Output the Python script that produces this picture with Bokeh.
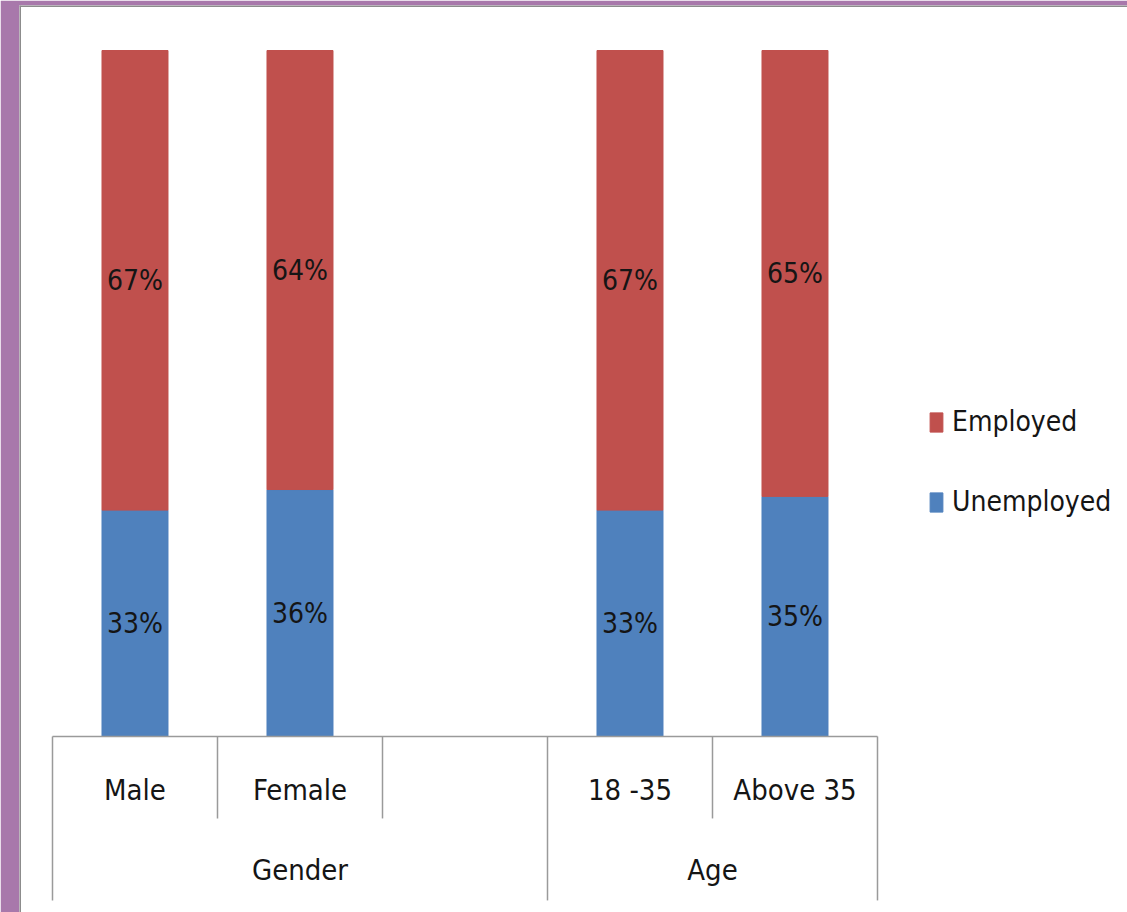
from bokeh.plotting import figure
from bokeh.models import ColumnDataSource, Range1d, Legend, LegendItem, Span
from bokeh.core.properties import value
from bokeh.embed import file_html
from bokeh.resources import INLINE

# ---- data ----
slots = ["Male", "Female", "", "18 -35", "Above 35"]
groups = ["Gender", "Age"]
group_sizes = [3, 2]
unemployed = [33, 36, None, 33, 35]
employed = [67, 64, None, 67, 65]
series = ["Employed", "Unemployed"]

FONT = "DejaVu Sans Condensed, Open Sans, sans-serif"
RED = "#C0504D"
BLUE = "#4F81BD"
PURPLE = "#A878AB"
GRAY = "#8C8C8C"
AXIS_GRAY = "#9A9A9A"
TXT = "#151515"

x_centers = [i + 0.5 for i in range(len(slots))]
bar_idx = [i for i, v in enumerate(unemployed) if v is not None]
xs = [x_centers[i] for i in bar_idx]
u = [unemployed[i] / 100 for i in bar_idx]
e = [employed[i] / 100 for i in bar_idx]
tot = [a + b for a, b in zip(u, e)]

src = ColumnDataSource(dict(
    x=xs, u=u, tot=tot,
    u_mid=[a / 2 for a in u],
    e_mid=[a + b / 2 for a, b in zip(u, e)],
    u_lab=[f"{unemployed[i]}%" for i in bar_idx],
    e_lab=[f"{employed[i]}%" for i in bar_idx],
))

p = figure(width=1127, height=912,
           x_range=Range1d(-0.2, 6.5152), y_range=Range1d(-0.2566, 1.0656),
           output_backend="svg", toolbar_location=None,
           x_axis_location=None, y_axis_location=None,
           min_border_left=19, min_border_top=5, min_border_right=0, min_border_bottom=0,
           background_fill_color="white", border_fill_color=PURPLE,
           outline_line_color=None)
p.grid.visible = False

blue = p.vbar(x="x", width=0.4, bottom=0, top="u", source=src,
              fill_color=BLUE, line_color=BLUE)
red = p.vbar(x="x", width=0.4, bottom="u", top="tot", source=src,
             fill_color=RED, line_color=RED)

common = dict(text_font=value(FONT), text_font_size="28px", text_color=TXT,
              text_align="center", text_baseline="middle")
p.text(x="x", y="u_mid", text="u_lab", source=src, **common)
p.text(x="x", y="e_mid", text="e_lab", source=src, **common)

# category axis box
n = len(slots)
p.segment(x0=[0], y0=[0], x1=[n], y1=[0], line_color=AXIS_GRAY, line_width=1.5)
group_bounds = [0]
for s in group_sizes:
    group_bounds.append(group_bounds[-1] + s)
bx, by0, by1 = [], [], []
for b in range(n + 1):
    bx.append(b)
    by0.append(0)
    by1.append(-0.239 if b in group_bounds else -0.1195)
p.segment(x0=bx, y0=by0, x1=bx, y1=by1, line_color=AXIS_GRAY, line_width=1.5)

cat_src = ColumnDataSource(dict(x=x_centers, y=[-0.0787] * n, t=slots))
p.text(x="x", y="y", text="t", source=cat_src, **dict(common, text_font_size="29px"))
gx = [(group_bounds[i] + group_bounds[i + 1]) / 2 for i in range(len(groups))]
grp_src = ColumnDataSource(dict(x=gx, y=[-0.195] * len(groups), t=groups))
p.text(x="x", y="y", text="t", source=grp_src, **dict(common, text_font_size="29px"))

legend = Legend(items=[LegendItem(label=series[0], renderers=[red]),
                       LegendItem(label=series[1], renderers=[blue])],
                location=(909, 394), orientation="vertical",
                glyph_width=16, glyph_height=24, label_height=30,
                label_standoff=8, spacing=47, padding=0, margin=0,
                border_line_color=None, background_fill_alpha=0,
                label_text_font=FONT, label_text_font_size="28px",
                label_text_color=TXT)
p.add_layout(legend)

p.add_layout(Span(location=-0.2, dimension="height", line_color=GRAY, line_width=3))
p.add_layout(Span(location=1.0656, dimension="width", line_color=GRAY, line_width=3))

open("out.html", "w").write(file_html(p, INLINE))
